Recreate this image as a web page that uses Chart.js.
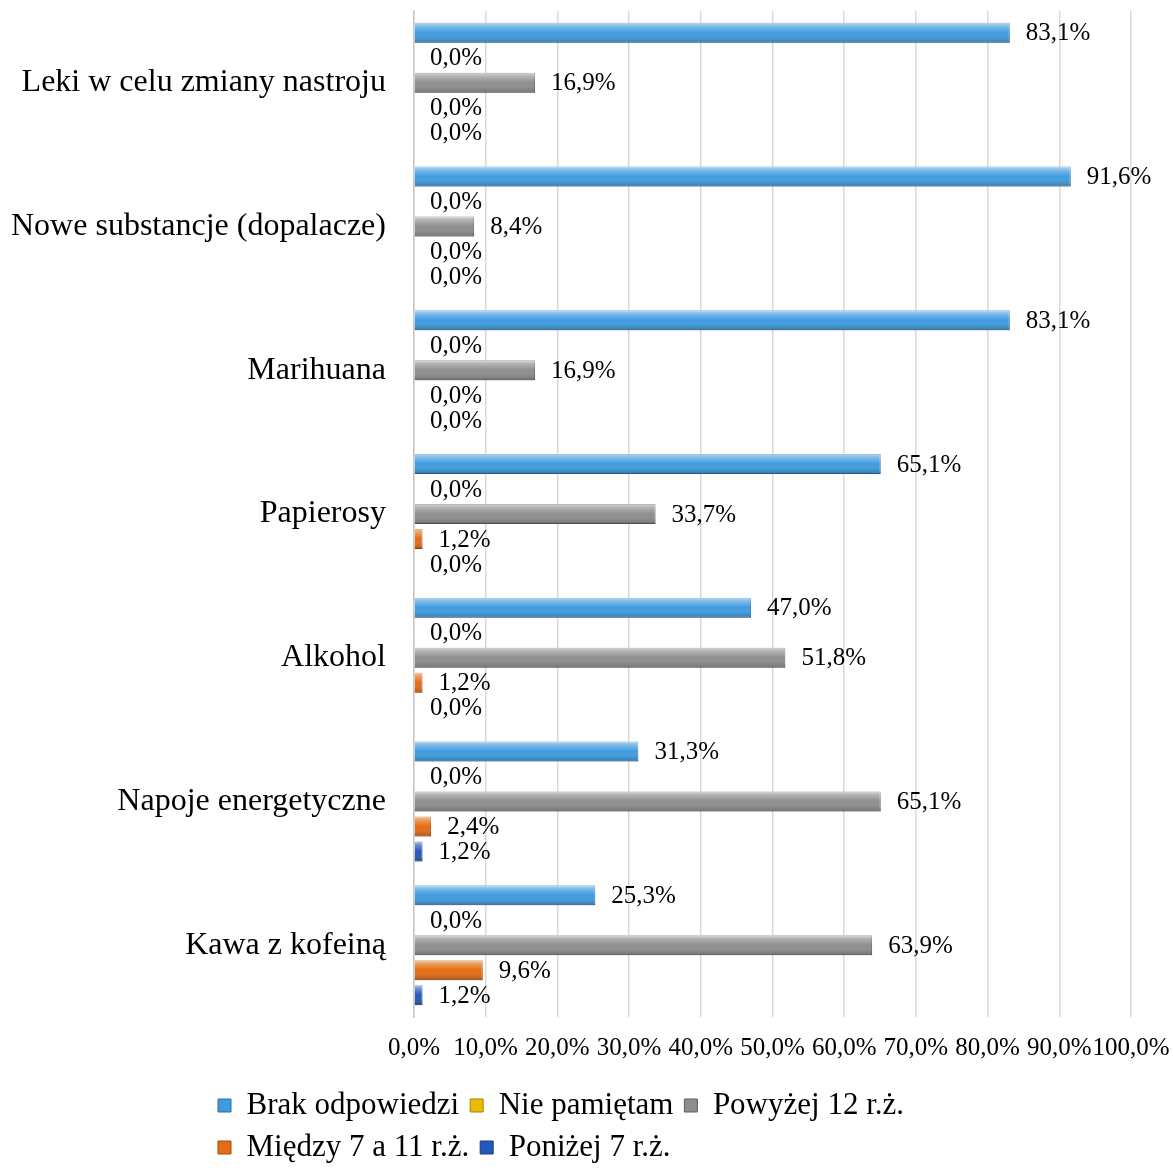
<!DOCTYPE html>
<html>
<head>
<meta charset="utf-8">
<script src="https://cdn.jsdelivr.net/npm/chart.js@4/dist/chart.umd.min.js"></script>
<style>
    html, body { margin: 0; padding: 0; background: #fff; }
    #holder { width: 1173px; height: 1173px; }
</style>
</head>
<body>
<div id="holder">
    <canvas id="barChart"></canvas>
</div>
<script>
    var categories = [
        'Leki w celu zmiany nastroju',
        'Nowe substancje (dopalacze)',
        'Marihuana',
        'Papierosy',
        'Alkohol',
        'Napoje energetyczne',
        'Kawa z kofeiną'
    ];
    var seriesNames = ['Brak odpowiedzi', 'Nie pamiętam', 'Powyżej 12 r.ż.', 'Między 7 a 11 r.ż.', 'Poniżej 7 r.ż.'];

    var brakOdpowiedzi = [83.1, 91.6, 83.1, 65.1, 47.0, 31.3, 25.3];
    var niePamietam    = [0.0, 0.0, 0.0, 0.0, 0.0, 0.0, 0.0];
    var powyzej12      = [16.9, 8.4, 16.9, 33.7, 51.8, 65.1, 63.9];
    var miedzy7a11     = [0.0, 0.0, 0.0, 1.2, 1.2, 2.4, 9.6];
    var ponizej7       = [0.0, 0.0, 0.0, 0.0, 0.0, 1.2, 1.2];

    var xTicks = [0, 10, 20, 30, 40, 50, 60, 70, 80, 90, 100];

    var colors = ['#3f9be0', '#ecbc00', '#8e8e8e', '#e56c12', '#2558b8'];
    var borders = ['#2a6fa8', '#a88400', '#5e5e5e', '#a84a08', '#183d85'];

    function pct(v) {
        return v.toFixed(1).replace('.', ',') + '%';
    }

    // bevel look + value labels
    var barExtras = {
        id: 'barExtras',
        afterLayout: function (chart) {
            // legend starts under the category labels, like in Excel
            chart.legend.left = 207;
            chart.legend.right = 985;
        },
        afterDatasetsDraw: function (chart) {
            var ctx = chart.ctx;
            ctx.save();
            chart.data.datasets.forEach(function (ds, di) {
                var meta = chart.getDatasetMeta(di);
                meta.data.forEach(function (bar, i) {
                    var w = bar.x - bar.base;
                    var h = bar.height;
                    if (w > 0.5) {
                        var g = ctx.createLinearGradient(0, bar.y - h / 2, 0, bar.y + h / 2);
                        g.addColorStop(0, 'rgba(255,255,255,0.6)');
                        g.addColorStop(0.2, 'rgba(255,255,255,0.3)');
                        g.addColorStop(0.5, 'rgba(255,255,255,0)');
                        g.addColorStop(1, 'rgba(0,0,0,0.25)');
                        ctx.fillStyle = g;
                        ctx.fillRect(bar.base, bar.y - h / 2, w, h);
                    }
                    ctx.fillStyle = '#000';
                    ctx.font = '25px "Liberation Serif", "Times New Roman", serif';
                    ctx.textAlign = 'left';
                    ctx.textBaseline = 'middle';
                    ctx.fillText(pct(ds.data[i]), bar.x + 16, bar.y + 1);
                });
            });
            ctx.restore();
        }
    };

    var allSeries = [brakOdpowiedzi, niePamietam, powyzej12, miedzy7a11, ponizej7];

    var ctx = document.getElementById('barChart');
    var myBarChart = new Chart(ctx, {
        type: 'bar',
        data: {
            labels: categories,
            datasets: allSeries.map(function (values, k) {
                return {
                    label: seriesNames[k],
                    data: values,
                    backgroundColor: colors[k],
                    borderColor: borders[k],
                    borderWidth: 1,
                    categoryPercentage: 0.87,
                    barPercentage: 0.8
                };
            })
        },
        options: {
            indexAxis: 'y',
            responsive: true,
            maintainAspectRatio: false,
            animation: false,
            layout: {
                padding: { top: 11, left: 8, right: 42, bottom: 0 }
            },
            scales: {
                x: {
                    min: 0,
                    max: 100,
                    afterBuildTicks: function (axis) {
                        axis.ticks = xTicks.map(function (v) { return { value: v }; });
                    },
                    afterFit: function (axis) {
                        axis.paddingLeft = 0;
                        axis.paddingRight = 0;
                    },
                    grid: { color: '#d9d9d9', lineWidth: 1.5, drawTicks: false },
                    border: { display: false },
                    ticks: {
                        autoSkip: false,
                        maxRotation: 0,
                        padding: 16,
                        color: '#000',
                        font: { family: '"Liberation Serif", "Times New Roman", serif', size: 25 },
                        callback: function (v) { return pct(v); }
                    }
                },
                y: {
                    afterFit: function (axis) {
                        axis.paddingTop = 0;
                        axis.paddingBottom = 0;
                        axis.width -= 25;
                    },
                    grid: { display: false, drawTicks: false },
                    border: { display: true, color: '#c8c8c8', width: 1.5 },
                    ticks: {
                        padding: 28,
                        color: '#000',
                        font: { family: '"Liberation Serif", "Times New Roman", serif', size: 32 }
                    }
                }
            },
            plugins: {
                legend: {
                    position: 'bottom',
                    align: 'start',
                    labels: {
                        boxWidth: 13,
                        boxHeight: 13,
                        padding: 11,
                        color: '#000',
                        font: { family: '"Liberation Serif", "Times New Roman", serif', size: 31 }
                    }
                },
                tooltip: { enabled: false }
            }
        },
        plugins: [barExtras]
    });
</script>
</body>
</html>
